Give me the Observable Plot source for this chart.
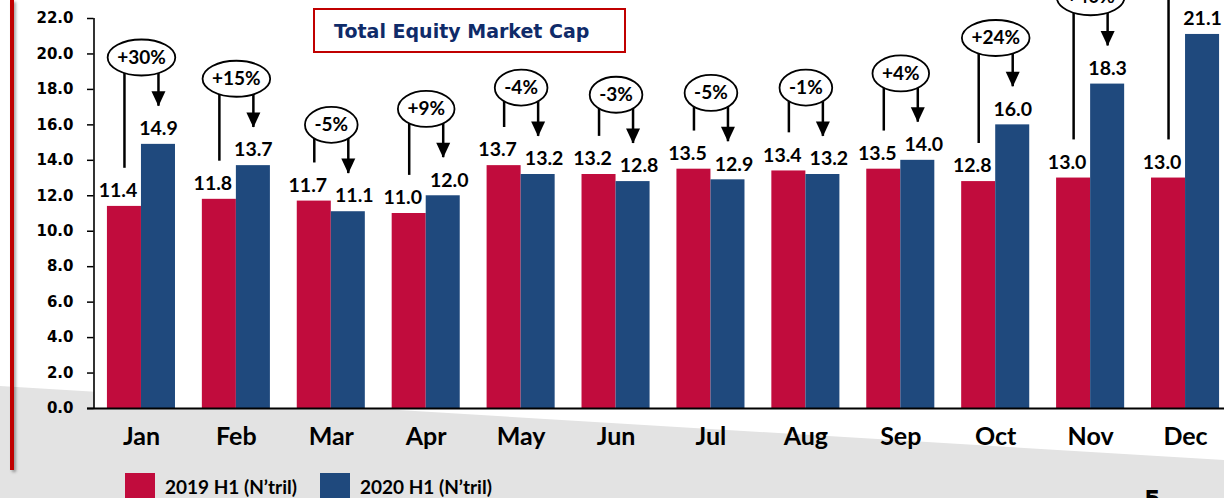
<!DOCTYPE html>
<html>
<head>
<meta charset="utf-8">
<script src="https://cdn.jsdelivr.net/npm/d3@7"></script>
<script src="https://cdn.jsdelivr.net/npm/@observablehq/plot@0.6"></script>
<style>
  html, body { margin: 0; padding: 0; background: #fff; }
  #page { position: relative; width: 1224px; height: 498px; overflow: hidden; background: #fff; font-family: Lato, sans-serif; }
  #gray { position: absolute; left: 0; top: 0; width: 1224px; height: 498px; background: #e3e3e3;
          clip-path: polygon(0px 386px, 1224px 460px, 1224px 498px, 0px 498px); }
  #plotbg { position: absolute; left: 94px; top: 0; width: 1130px; height: 408px; background: #fff; }
  #chart { position: absolute; left: 0; top: 0; }
  #redline { position: absolute; left: 10px; top: 0; width: 4px; height: 470px; background: #c00000;
             box-shadow: 2px 2px 3px rgba(0,0,0,0.35); }
  #titlebox { position: absolute; left: 313px; top: 8px; width: 313px; height: 45px; box-sizing: border-box;
              border: 2px solid #c00000; background: #fff; display: flex; align-items: center; padding-left: 19px;
              font: bold 19px "DejaVu Sans", sans-serif; color: #0f2b69; white-space: nowrap; }
  #legend { position: absolute; left: 125px; top: 473px; display: flex; align-items: center; height: 27px;
            font: bold 19px Lato, sans-serif; color: #000; white-space: nowrap; }
  #legend .sw { width: 30px; height: 27px; margin-right: 10px; }
  #legend .lab { margin-right: 23px; }
  #pagenum { position: absolute; left: 1144px; top: 486px; font: bold 24px "DejaVu Sans", sans-serif; color: #000; }
</style>
</head>
<body>
<div id="page">
  <div id="gray"></div>
  <div id="plotbg"></div>
  <div id="redline"></div>
  <div id="chart"></div>
  <div id="titlebox">Total Equity Market Cap</div>
  <div id="legend"></div>
  <div id="pagenum">5</div>
</div>
<script>
// ---- data ----
const months = ["Jan", "Feb", "Mar", "Apr", "May", "Jun", "Jul", "Aug", "Sep", "Oct", "Nov", "Dec"];
const seriesNames = ["2019 H1 (N’tril)", "2020 H1 (N’tril)"];
const values2019 = [11.4, 11.8, 11.7, 11.0, 13.7, 13.2, 13.5, 13.4, 13.5, 12.8, 13.0, 13.0];
const values2020 = [14.9, 13.7, 11.1, 12.0, 13.2, 12.8, 12.9, 13.2, 14.0, 16.0, 18.3, 21.1];
const changeLabels = ["+30%", "+15%", "-5%", "+9%", "-4%", "-3%", "-5%", "-1%", "+4%", "+24%", "+40%", "+62%"];
const yTicks = [0, 2, 4, 6, 8, 10, 12, 14, 16, 18, 20, 22];
const seriesColors = ["#c10c3d", "#1f497d"];

// ---- derived tables ----
const rows2019 = months.map((m, i) => ({month: m, value: values2019[i]}));
const rows2020 = months.map((m, i) => ({month: m, value: values2020[i], near: values2020[i] - values2019[i] < 1.5}));
const notes = months.map((m, i) => ({month: m, a: values2019[i], b: values2020[i], label: changeLabels[i]}));

// ---- custom symbols ----
const K = 0.5522847498;
function ellipseSymbol(rx, ry) {
  return {draw(ctx) {
    ctx.moveTo(rx, 0);
    ctx.bezierCurveTo(rx, ry * K, rx * K, ry, 0, ry);
    ctx.bezierCurveTo(-rx * K, ry, -rx, ry * K, -rx, 0);
    ctx.bezierCurveTo(-rx, -ry * K, -rx * K, -ry, 0, -ry);
    ctx.bezierCurveTo(rx * K, -ry, rx, -ry * K, rx, 0);
    ctx.closePath();
  }};
}
const arrowHead = {draw(ctx) {
  ctx.moveTo(0, 0); ctx.lineTo(-7, -15); ctx.lineTo(7, -15); ctx.closePath();
}};

const pctFont = 19;
const mctx = document.createElement("canvas").getContext("2d");
mctx.font = `bold ${pctFont}px Lato`;
const rxOf = s => mctx.measureText(s).width / 2 + 9.5;

const half = 17; // half of a month group (bar width)
const textStyle = {fontFamily: "Lato, sans-serif", fontWeight: "bold", fill: "#000"};

const ellipseMarks = notes.map(d => Plot.dot([d], {
  x: "month", y: n => n.b + 4.9, r: 1,
  symbol: ellipseSymbol(rxOf(d.label), 18),
  fill: "white", stroke: "black", strokeWidth: 1.8
}));

const chart = Plot.plot({
  width: 1224,
  height: 462,
  marginLeft: 93.5,
  marginRight: -8.5,
  marginTop: 18,
  marginBottom: 54,
  style: {background: "transparent", overflow: "hidden"},
  x: {type: "band", domain: months, paddingInner: 0.283, paddingOuter: 0.1415, round: false},
  y: {domain: [0, 22]},
  marks: [
    Plot.barY(rows2019, {x: "month", y: "value", fill: seriesColors[0], insetRight: 34.03}),
    Plot.barY(rows2020, {x: "month", y: "value", fill: seriesColors[1], insetLeft: 34.03}),
    Plot.ruleY([0], {stroke: "black", strokeWidth: 1.8, insetLeft: -6.5}),
    Plot.ruleX(["Jan"], {y1: 0, y2: 22, dx: -47.46, stroke: "black", strokeWidth: 1.6}),
    Plot.axisY({ticks: yTicks, tickFormat: d => d.toFixed(1), tickSize: 6.5, tickPadding: 14,
      fontSize: 15, fontFamily: "DejaVu Sans, sans-serif", fontWeight: "bold", stroke: "black", fill: "black",
      strokeWidth: 1.5, label: null}),
    Plot.axisX({tickSize: 0, tickPadding: 19, fontSize: 25, fontFamily: "Lato, sans-serif",
      fontWeight: "bold", fill: "black", label: null}),
    // value labels
    Plot.text(rows2019, {x: "month", y: "value", text: d => d.value.toFixed(1), dx: -half - 6.5, dy: -15.5, fontSize: 19.5, ...textStyle}),
    Plot.text(rows2020.filter(d => !d.near), {x: "month", y: "value", text: d => d.value.toFixed(1), dx: half, dy: -15.5, fontSize: 19.5, ...textStyle}),
    Plot.text(rows2020.filter(d => d.near), {x: "month", y: "value", text: d => d.value.toFixed(1), dx: half + 6, dy: -15.5, fontSize: 19.5, ...textStyle}),
    // change annotations
    Plot.ruleX(notes, {x: "month", y1: d => d.a + 2.15, y2: d => d.b + 4.9, dx: -half, stroke: "black", strokeWidth: 2.5}),
    Plot.ruleX(notes, {x: "month", y1: d => d.b + 2.15, y2: d => d.b + 4.9, dx: half, stroke: "black", strokeWidth: 2.5, insetBottom: 8}),
    Plot.dot(notes, {x: "month", y: d => d.b + 2.15, dx: half, r: 1, symbol: arrowHead, fill: "black", stroke: "none"}),
    ...ellipseMarks,
    Plot.text(notes, {x: "month", y: d => d.b + 4.9, text: "label", fontSize: pctFont, ...textStyle})
  ]
});
document.getElementById("chart").append(chart);

// legend
const legend = document.getElementById("legend");
seriesNames.forEach((name, i) => {
  const sw = document.createElement("div");
  sw.className = "sw";
  sw.style.background = seriesColors[i];
  const lab = document.createElement("div");
  lab.className = "lab";
  lab.textContent = name;
  legend.append(sw, lab);
});
</script>
</body>
</html>
